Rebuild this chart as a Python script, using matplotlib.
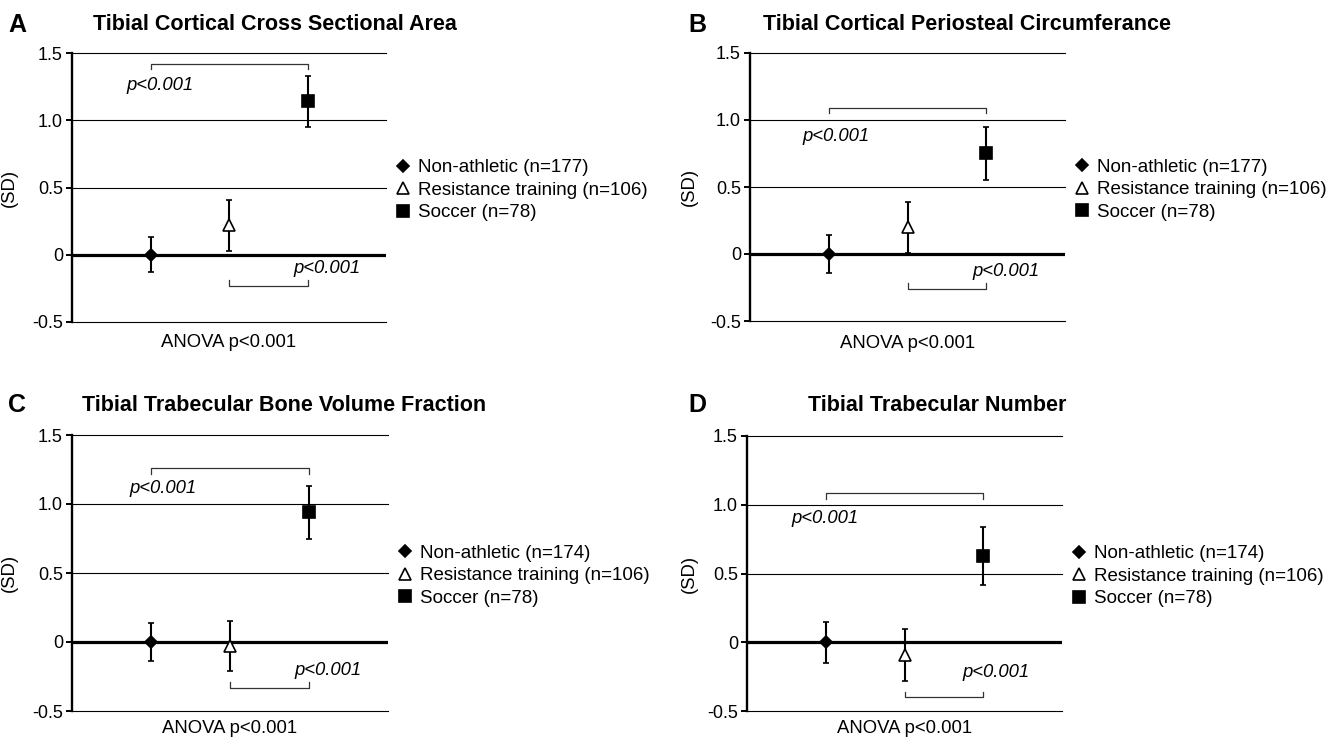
import numpy as np
import matplotlib.pyplot as plt
from matplotlib.lines import Line2D

plt.rcParams['font.family'] = ['Liberation Sans', 'DejaVu Sans']

## data (SD units)
groups = ['Non-athletic', 'Resistance training', 'Soccer']
panel_letters = ['A', 'B', 'C', 'D']
titles = ['Tibial Cortical Cross Sectional Area',
          'Tibial Cortical Periosteal Circumferance',
          'Tibial Trabecular Bone Volume Fraction',
          'Tibial Trabecular Number']
mean_A = [0.00, 0.22, 1.14]
mean_B = [0.00, 0.20, 0.75]
mean_C = [0.00, -0.03, 0.94]
mean_D = [0.00, -0.09, 0.63]
err_A = [0.13, 0.19, 0.19]
err_B = [0.145, 0.19, 0.20]
err_C = [0.14, 0.18, 0.19]
err_D = [0.15, 0.19, 0.21]
n_AB = [177, 106, 78]
n_CD = [174, 106, 78]
yticks = [-0.5, 0, 0.5, 1.0, 1.5]
yticklabels = ['-0.5', '0', '0.5', '1.0', '1.5']
p_label = 'p<0.001'
anova_label = 'ANOVA p<0.001'

means = [mean_A, mean_B, mean_C, mean_D]
errs = [err_A, err_B, err_C, err_D]
ns = [n_AB, n_AB, n_CD, n_CD]

## layout (pixels of a 1338x741 canvas)
W, H = 1338, 741
axes_px = [(72, 53, 314, 269), (750, 53, 315, 268),
           (72, 435, 316, 276), (747, 436, 315, 275)]
letter_px = [(8, 25), (688, 25), (8, 405), (688, 405)]
title_px = [(93, 25), (763, 25), (82, 405), (808, 405)]
# bracket heights: (top bracket y, bottom bracket y)
brackets = [(1.42, -0.23), (1.09, -0.26), (1.26, -0.33), (1.085, -0.40)]
# p text: (top x, top y, bottom x, bottom y)
ptext = [(0.69, 1.26, 2.82, -0.10), (0.67, 0.88, 2.82, -0.13),
         (0.73, 1.11, 2.82, -0.21), (0.56, 0.90, 2.74, -0.22)]
anova_y = [-0.078, -0.084, -0.062, -0.062]
ylabel_x = [-54, -52, -54, -49]

markers = ['D', '^', 's']
msizes = [6.3, 8.6, 9]
faces = ['black', 'white', 'black']

fig = plt.figure(figsize=(W / 100, H / 100), dpi=100)

for k in range(4):
    l, t, w, h = axes_px[k]
    ax = fig.add_axes([l / W, 1 - (t + h) / H, w / W, h / H])
    x = np.arange(1, 4)
    for i in range(3):
        ax.errorbar(x[i], means[k][i], yerr=errs[k][i], fmt=markers[i],
                    ms=msizes[i], mfc=faces[i], mec='black', mew=1.2,
                    ecolor='black', elinewidth=1.5, capsize=2, capthick=1.7,
                    zorder=4)
    ax.set_xlim(0, 4)
    ax.set_ylim(-0.5, 1.5)
    ax.set_xticks([])
    ax.set_yticks(yticks)
    ax.set_yticklabels(yticklabels)
    ax.tick_params(axis='y', length=4, width=1.4, pad=2.5, labelsize=13)
    for s in ['top', 'right', 'bottom']:
        ax.spines[s].set_visible(False)
    ax.spines['left'].set_linewidth(1.7)
    for yv in yticks:
        if yv != 0:
            ax.axhline(yv, color='black', lw=0.8, clip_on=False, zorder=1)
    ax.axhline(0, color='black', lw=2.3, zorder=2)

    # significance brackets
    ty, by = brackets[k]
    ax.plot([1, 1, 3, 3], [ty - 0.04, ty, ty, ty - 0.04], color='#333333', lw=0.9)
    ax.plot([2, 2, 3, 3], [by + 0.04, by, by, by + 0.04], color='#333333', lw=0.9)
    tx1, ty1, tx2, ty2 = ptext[k]
    ax.text(tx1, ty1, p_label, style='italic', fontsize=13.3, ha='left', va='center')
    ax.text(tx2, ty2, p_label, style='italic', fontsize=13.3, ha='left', va='center')

    ax.text(0.5, anova_y[k], anova_label, transform=ax.transAxes,
            ha='center', va='center', fontsize=13.3)
    ax.set_ylabel('(SD)', fontsize=13.3)
    ax.yaxis.set_label_coords(ylabel_x[k] / w, 0.5)

    handles = [Line2D([], [], ls='none', marker=markers[i], ms=msizes[i],
                      mfc=faces[i], mec='black', mew=1.2) for i in range(3)]
    labels = ['%s (n=%d)' % (groups[i], ns[k][i]) for i in range(3)]
    ax.legend(handles, labels, loc='center left', bbox_to_anchor=(1.025, 0.49),
              frameon=False, fontsize=13.5, handlelength=1, handletextpad=0.3,
              borderpad=0, borderaxespad=0, labelspacing=0.28)

    fig.text(letter_px[k][0] / W, 1 - letter_px[k][1] / H, panel_letters[k],
             fontsize=18, fontweight='bold', ha='left', va='center')
    fig.text(title_px[k][0] / W, 1 - title_px[k][1] / H, titles[k],
             fontsize=15.5, fontweight='bold', ha='left', va='center')

fig.savefig('out.png', dpi=100)
